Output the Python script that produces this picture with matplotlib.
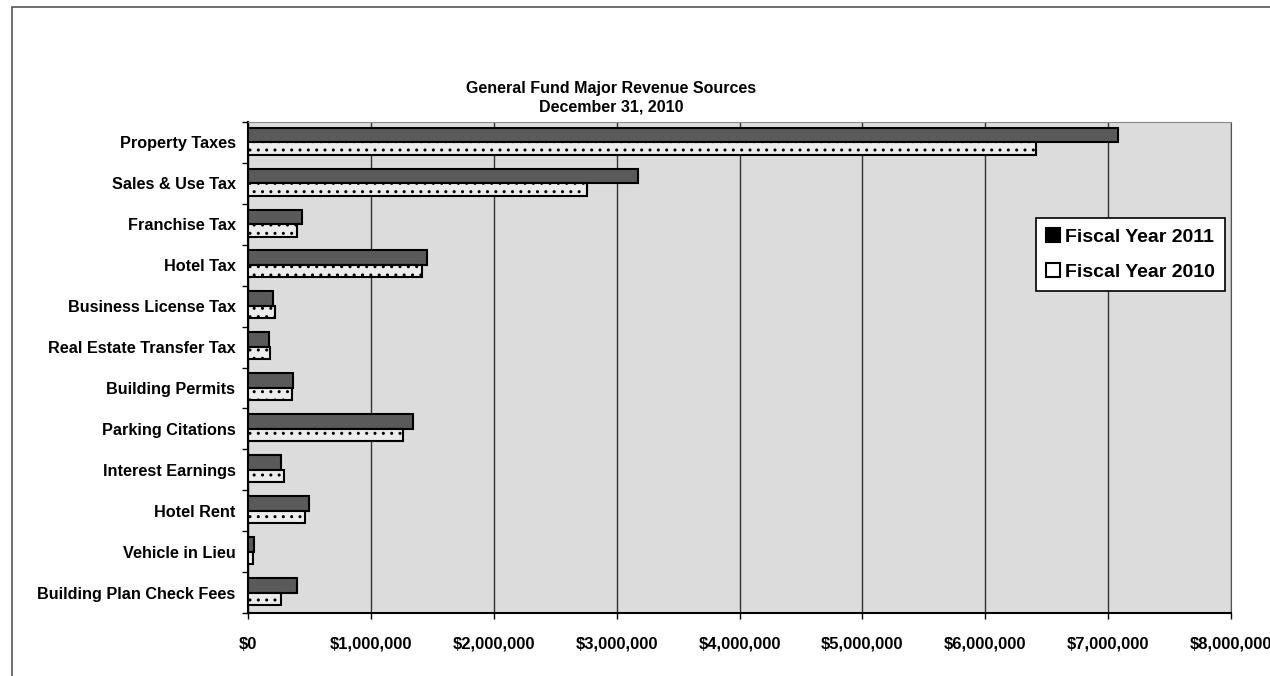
import matplotlib
matplotlib.use("Agg")
import matplotlib.pyplot as plt
import numpy as np
from matplotlib.ticker import FuncFormatter, MultipleLocator
from matplotlib.patches import Rectangle

plt.rcParams['font.family'] = ['Liberation Sans', 'DejaVu Sans']
plt.rcParams['hatch.color'] = '#9a9a9a'

categories = ["Property Taxes", "Sales & Use Tax", "Franchise Tax", "Hotel Tax",
              "Business License Tax", "Real Estate Transfer Tax", "Building Permits",
              "Parking Citations", "Interest Earnings", "Hotel Rent", "Vehicle in Lieu",
              "Building Plan Check Fees"]
fy2011 = [7080000, 3170000, 440000, 1460000, 200000, 170000, 370000,
          1340000, 270000, 500000, 50000, 400000]
fy2010 = [6410000, 2760000, 400000, 1420000, 220000, 180000, 360000,
          1260000, 290000, 460000, 40000, 270000]
series_names = ["Fiscal Year 2011", "Fiscal Year 2010"]
title_lines = ["General Fund Major Revenue Sources", "December 31, 2010"]

W, H = 1270, 676
fig = plt.figure(figsize=(12.7, 6.76), dpi=100)
fig.patch.set_facecolor("white")

# outer chart frame
fig.add_artist(Rectangle((12/W, -0.05), 1.2, 1 - 7/H + 0.05, transform=fig.transFigure,
                         fill=False, edgecolor="#555555", linewidth=1.2))

top, bottom, left, right = 122, 613, 248, 1231
ax = fig.add_axes([left/W, 1 - bottom/H, (right-left)/W, (bottom-top)/H])
ax.set_facecolor("#dcdcdc")

y = np.arange(len(categories))
h1, h2 = 0.36, 0.30
ax.barh(y - 0.36 + h1/2, fy2011, height=h1, color="#5a5a5a", edgecolor="black",
        linewidth=1.5, label=series_names[0], zorder=3)
ax.barh(y - 0.36 + h1 + h2/2, fy2010, height=h2, color="#ececec", edgecolor="black",
        linewidth=1.5, hatch="..", label=series_names[1], zorder=3)

ax.set_xlim(0, 8000000)
ax.set_ylim(len(categories) - 0.5, -0.5)
ax.xaxis.set_major_locator(MultipleLocator(1000000))
ax.xaxis.set_major_formatter(FuncFormatter(lambda v, p: "${:,.0f}".format(v)))
ax.grid(axis="x", color="#333333", linewidth=1.0, zorder=1)
ax.set_axisbelow(True)
ax.set_yticks(y)
ax.set_yticklabels(categories)
for lbl in ax.get_yticklabels():
    lbl.set_fontweight("bold")
    lbl.set_fontsize(11.7)
for lbl in ax.get_xticklabels():
    lbl.set_fontweight("bold")
    lbl.set_fontsize(12)
ax.tick_params(axis="x", length=4, width=1, pad=13)
ax.set_yticks(np.arange(len(categories) + 1) - 0.5, minor=True)
ax.tick_params(axis="y", which="major", length=0, pad=9)
ax.tick_params(axis="y", which="minor", length=4, width=1)
for s in ["left", "bottom"]:
    ax.spines[s].set_color("black")
    ax.spines[s].set_linewidth(1.5)
ax.spines["top"].set_color("#888888")
ax.spines["right"].set_color("#555555")

leg = ax.legend(loc="upper left", bbox_to_anchor=((1036-left)/(right-left), 1 - (218-top)/(bottom-top)),
                frameon=True, fancybox=False, edgecolor="black", facecolor="white",
                framealpha=1, borderaxespad=0, handlelength=0.75, handleheight=0.75,
                handletextpad=0.25, labelspacing=0.9, borderpad=0.5,
                prop={"size": 14, "weight": "bold"})
leg.get_frame().set_linewidth(1.2)
leg.legend_handles[0].set_facecolor("black")
leg.legend_handles[1].set_hatch(None)
leg.legend_handles[1].set_facecolor("white")

fig.text(611/W, 1 - 88/H, title_lines[0], ha="center", va="center",
         fontsize=11.5, fontweight="bold")
fig.text(611/W, 1 - 107/H, title_lines[1], ha="center", va="center",
         fontsize=11.5, fontweight="bold")

fig.savefig("out.png", dpi=100)
